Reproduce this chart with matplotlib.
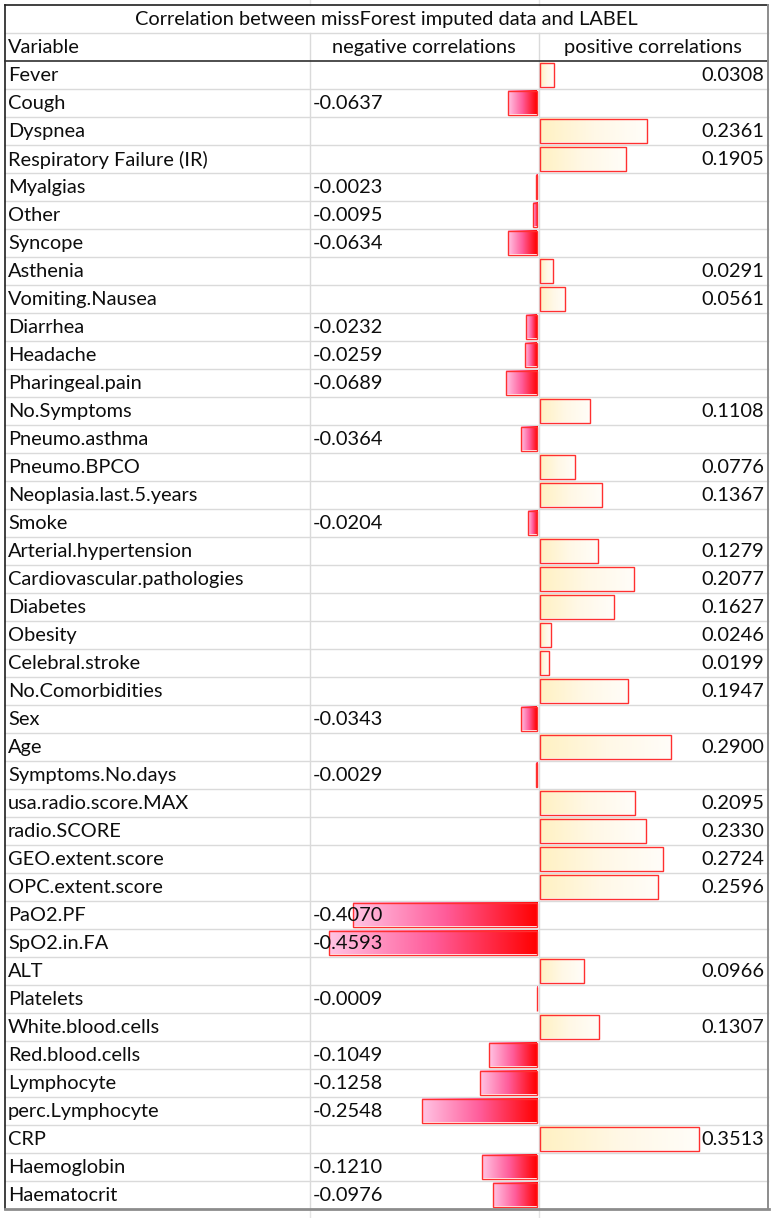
import matplotlib
matplotlib.use("Agg")
import matplotlib.pyplot as plt
import numpy as np
from matplotlib.colors import LinearSegmentedColormap
from matplotlib.patches import Rectangle

TITLE = "Correlation between missForest imputed data and LABEL"
HEADERS = ["Variable", "negative correlations", "positive correlations"]

variables = [
    "Fever", "Cough", "Dyspnea", "Respiratory Failure (IR)", "Myalgias", "Other",
    "Syncope", "Asthenia", "Vomiting.Nausea", "Diarrhea", "Headache",
    "Pharingeal.pain", "No.Symptoms", "Pneumo.asthma", "Pneumo.BPCO",
    "Neoplasia.last.5.years", "Smoke", "Arterial.hypertension",
    "Cardiovascular.pathologies", "Diabetes", "Obesity", "Celebral.stroke",
    "No.Comorbidities", "Sex", "Age", "Symptoms.No.days", "usa.radio.score.MAX",
    "radio.SCORE", "GEO.extent.score", "OPC.extent.score", "PaO2.PF",
    "SpO2.in.FA", "ALT", "Platelets", "White.blood.cells", "Red.blood.cells",
    "Lymphocyte", "perc.Lymphocyte", "CRP", "Haemoglobin", "Haematocrit",
]
correlations = [
    0.0308, -0.0637, 0.2361, 0.1905, -0.0023, -0.0095,
    -0.0634, 0.0291, 0.0561, -0.0232, -0.0259,
    -0.0689, 0.1108, -0.0364, 0.0776,
    0.1367, -0.0204, 0.1279,
    0.2077, 0.1627, 0.0246, 0.0199,
    0.1947, -0.0343, 0.2900, -0.0029, 0.2095,
    0.2330, 0.2724, 0.2596, -0.4070,
    -0.4593, 0.0966, -0.0009, 0.1307, -0.1049,
    -0.1258, -0.2548, 0.3513, -0.1210, -0.0976,
]

# table geometry (pixels)
W, H = 773, 1218
LEFT, RIGHT, TOP = 4.5, 768, 4.5
COL1, COL2 = 310, 538.5
ROW_H = 28
PX_PER_UNIT = 453
FONT = "Lato"
FS = 14.4
TXT = "#0d0d0d"

neg_cmap = LinearSegmentedColormap.from_list("neg", ["#ffc4e4", "#ff5c9a", "#ff0000"])
pos_cmap = LinearSegmentedColormap.from_list("pos", ["#fff1c2", "#fff8e6", "#fffdf9"])
grad = np.linspace(0, 1, 256).reshape(1, -1)

fig = plt.figure(figsize=(W / 100, H / 100), dpi=100)
ax = fig.add_axes([0, 0, 1, 1])
ax.set_xlim(0, W)
ax.set_ylim(H, 0)
ax.axis("off")

n = len(variables)
body_top = TOP + 2 * ROW_H
bottom = body_top + n * ROW_H

# faint sheet gridlines outside the table
for x in (COL1, COL2):
    ax.plot([x, x], [0, TOP], color="#e4e4e4", lw=1)
    ax.plot([x, x], [bottom, H], color="#e4e4e4", lw=1)

# row gridlines
for i in range(1, n):
    y = body_top + i * ROW_H
    ax.plot([LEFT, RIGHT], [y, y], color="#dadada", lw=1, zorder=1)
ax.plot([LEFT, RIGHT], [TOP + ROW_H, TOP + ROW_H], color="#dadada", lw=1)
ax.plot([COL1, COL1], [TOP + ROW_H, bottom], color="#dadada", lw=1, zorder=1)
ax.plot([COL2, COL2], [TOP + ROW_H, bottom], color="#dadada", lw=1, zorder=1)

# borders
ax.plot([LEFT, RIGHT], [TOP, TOP], color="#202020", lw=1.2, zorder=5)
ax.plot([LEFT, LEFT], [TOP, bottom], color="#202020", lw=1.2, zorder=5)
ax.plot([LEFT, RIGHT], [body_top, body_top], color="#303030", lw=1.2, zorder=5)
ax.plot([RIGHT, RIGHT], [TOP, bottom], color="#8c8c8c", lw=1.4, zorder=5)
ax.plot([LEFT, RIGHT + 0.7], [bottom, bottom], color="#8c8c8c", lw=2, zorder=5)

# title and headers
DY = 1  # small downward nudge so glyphs sit like the spreadsheet text
ax.text((LEFT + RIGHT) / 2, TOP + ROW_H / 2 + DY, TITLE, ha="center", va="center",
        fontsize=FS, family=FONT, color=TXT)
hy = TOP + 1.5 * ROW_H + DY
ax.text(LEFT + 3.5, hy, HEADERS[0], ha="left", va="center", fontsize=FS, family=FONT, color=TXT)
ax.text((COL1 + COL2) / 2, hy, HEADERS[1], ha="center", va="center", fontsize=FS, family=FONT, color=TXT)
ax.text((COL2 + RIGHT) / 2, hy, HEADERS[2], ha="center", va="center", fontsize=FS, family=FONT, color=TXT)

for i, (name, v) in enumerate(zip(variables, correlations)):
    y0 = body_top + i * ROW_H
    yc = y0 + ROW_H / 2 + DY
    b0, b1 = y0 + 2, y0 + ROW_H - 2
    w = abs(v) * PX_PER_UNIT
    if v < 0:
        x0, x1, cmap = COL2 - 1.5 - w, COL2 - 1.5, neg_cmap
    else:
        x0, x1, cmap = COL2 + 1.5, COL2 + 1.5 + w, pos_cmap
    ax.imshow(grad, cmap=cmap, extent=[x0, x1, b1, b0], aspect="auto",
              interpolation="bilinear", zorder=2)
    ax.add_patch(Rectangle((x0, b0), w, b1 - b0, fill=False,
                           edgecolor="#ff3030", lw=1, zorder=3))
    ax.text(LEFT + 3.5, yc, name, ha="left", va="center", fontsize=FS,
            family=FONT, color=TXT, zorder=4)
    label = f"{v:.4f}"
    if v < 0:
        ax.text(COL1 + 3, yc, label, ha="left", va="center", fontsize=FS,
                family=FONT, color=TXT, zorder=4)
    else:
        ax.text(RIGHT - 4, yc, label, ha="right", va="center", fontsize=FS,
                family=FONT, color=TXT, zorder=4)

ax.set_xlim(0, W)
ax.set_ylim(H, 0)
fig.savefig("out.png", dpi=100)
